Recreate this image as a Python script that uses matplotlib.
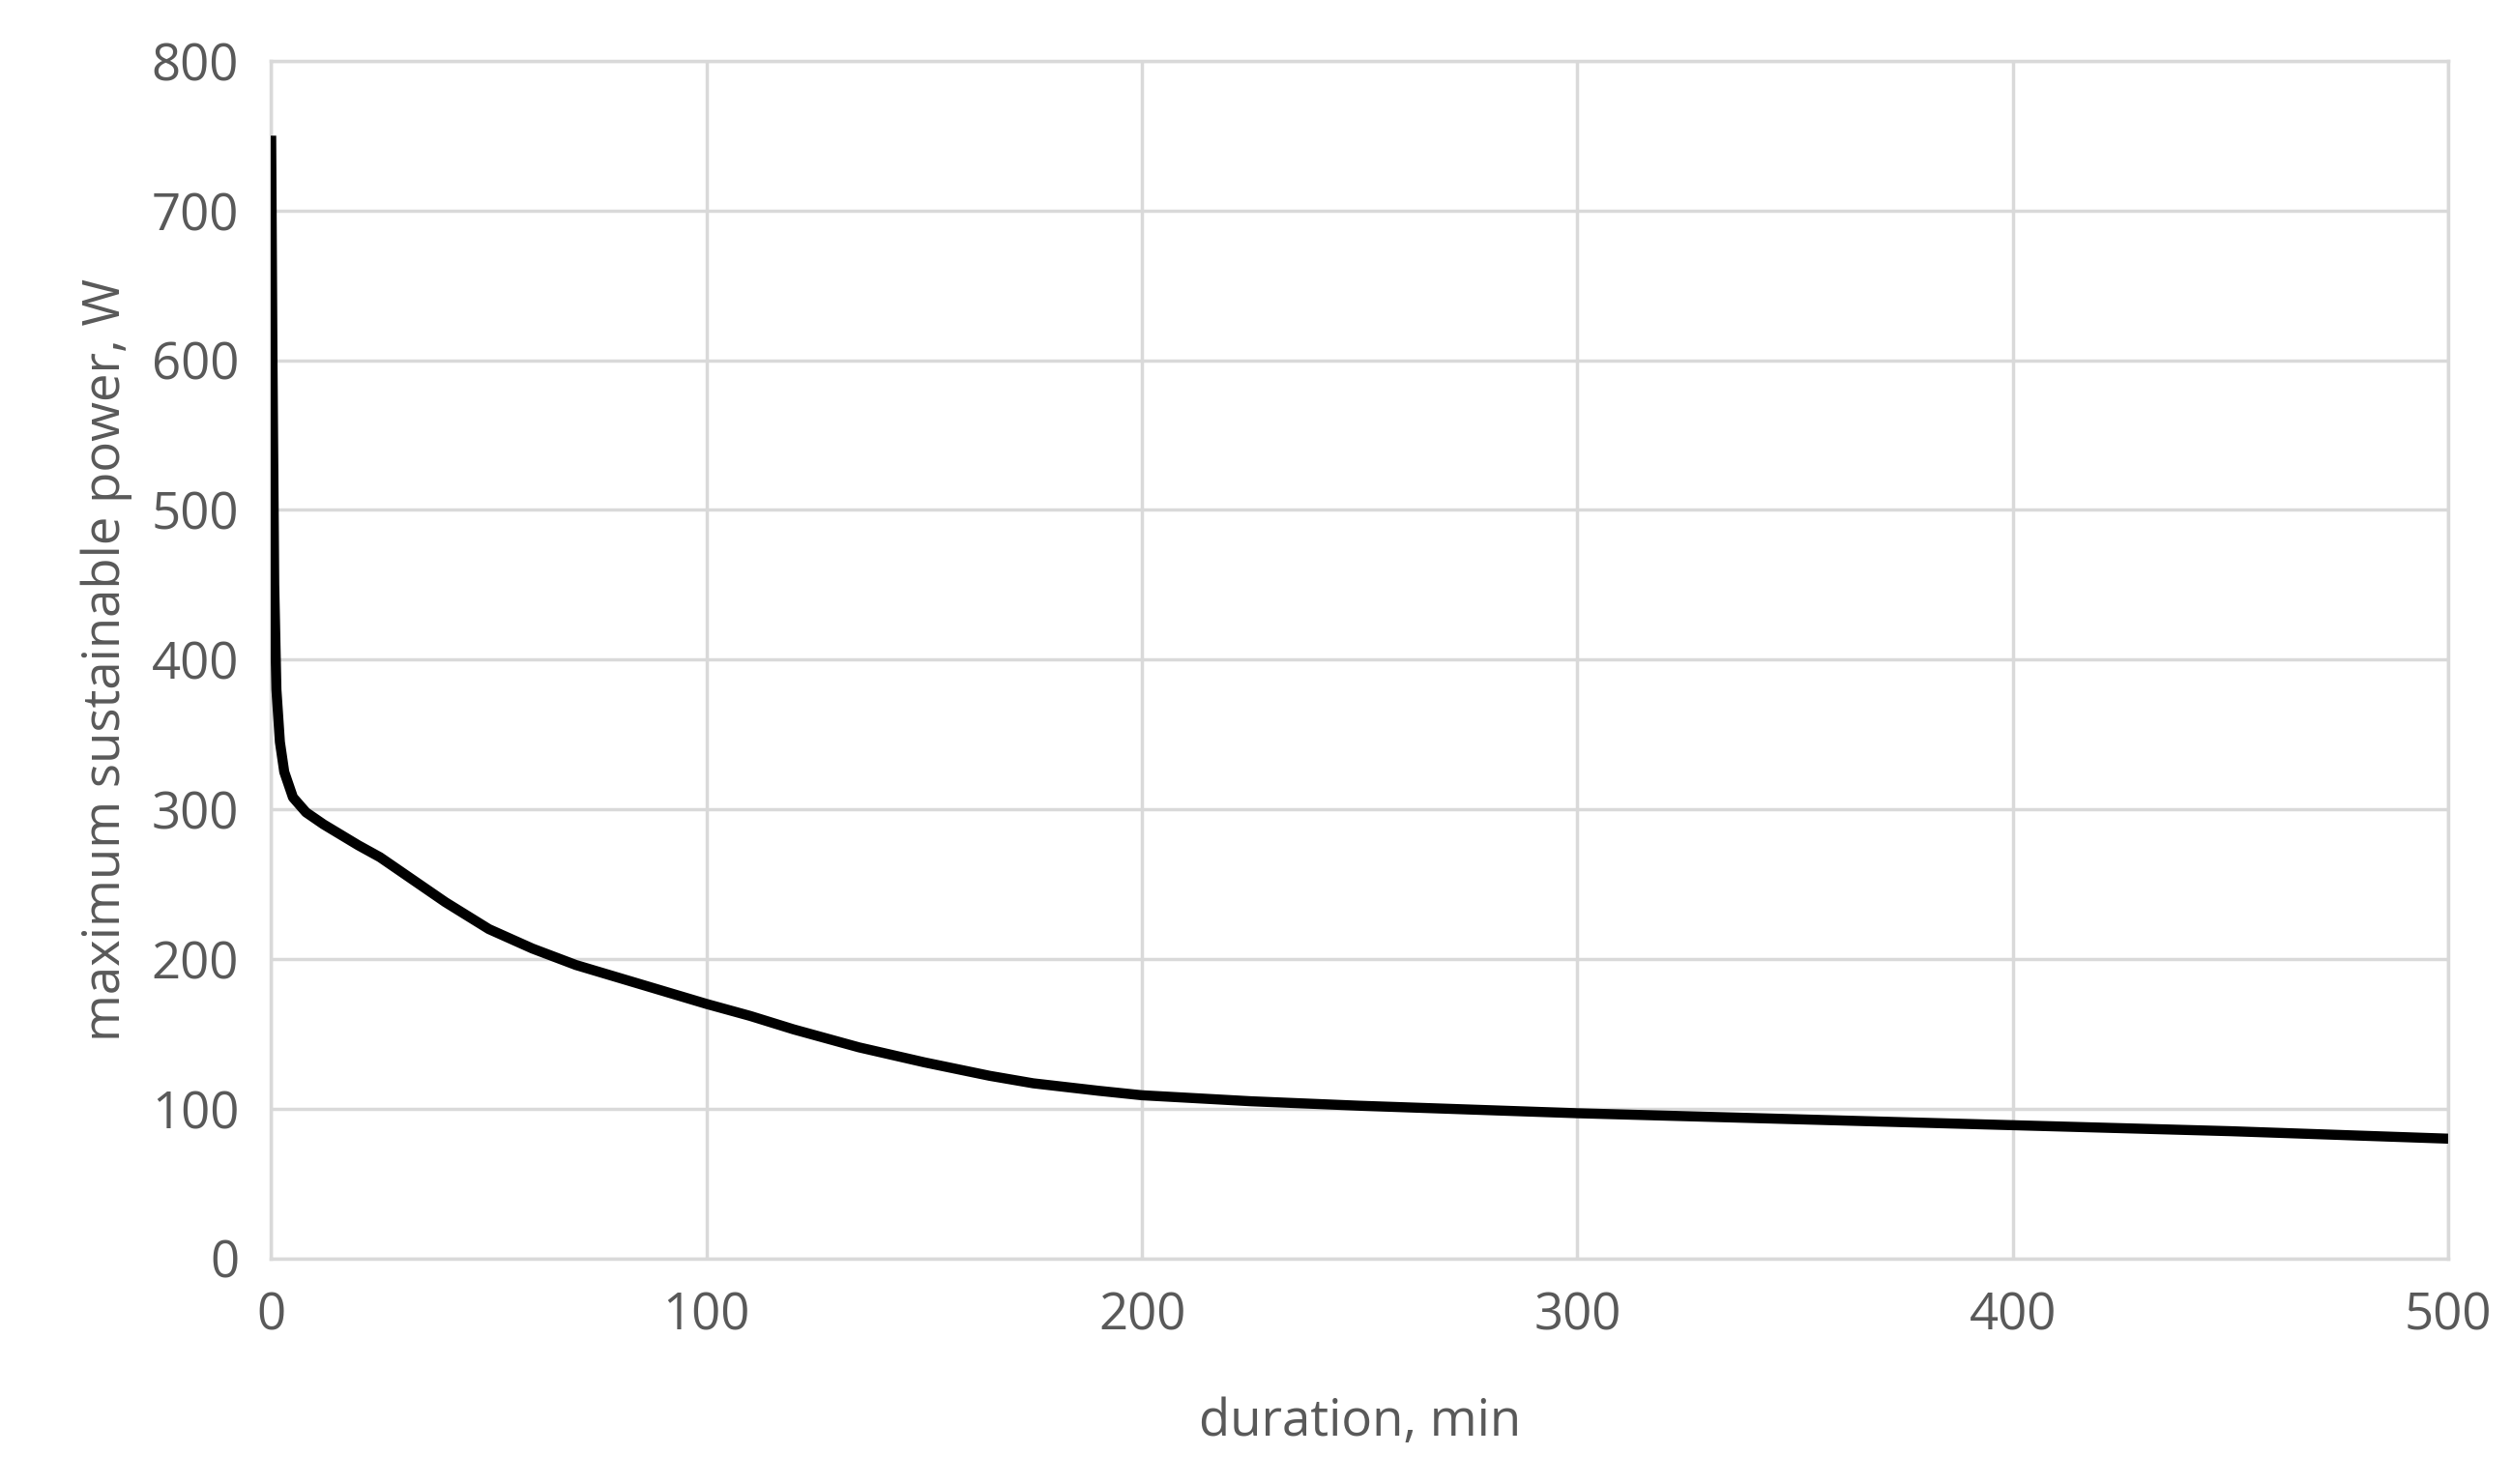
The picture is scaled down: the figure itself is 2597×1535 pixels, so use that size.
import matplotlib.pyplot as plt

# curve
duration = [0, 0.3, 0.7, 1.2, 2, 3, 5, 8, 12, 16, 20, 25, 30, 35, 40, 50, 60, 70, 85, 100,
            110, 120, 135, 150, 165, 175, 190, 200, 225, 250, 300, 350, 400, 450, 500]
power = [750, 600, 450, 380, 345, 325, 308, 298, 290, 283, 276, 268, 258, 248, 238, 220, 207,
         196, 183, 170, 162, 153, 141, 131, 122, 117, 112, 109, 105, 102, 97, 93, 89, 85, 80]

x_ticks = [0, 100, 200, 300, 400, 500]
y_ticks = [0, 100, 200, 300, 400, 500, 600, 700, 800]

grey = "#595959"
plt.rcParams['font.family'] = ['Open Sans', 'DejaVu Sans']

fig = plt.figure(figsize=(25.97, 15.35), dpi=100)
ax = fig.add_axes([0.108, 0.152, 0.867, 0.807])

ax.plot(duration, power, color="black", linewidth=7.5, solid_capstyle="butt",
        solid_joinstyle="round", zorder=3)

ax.set_xlim(0, 500)
ax.set_ylim(0, 800)
ax.set_xticks(x_ticks)
ax.set_yticks(y_ticks)
ax.grid(True, color="#d9d9d9", linewidth=2.5)
for s in ax.spines.values():
    s.set_color("#d9d9d9")
    s.set_linewidth(2.5)
ax.tick_params(length=0, labelsize=38, labelcolor=grey, pad=24)
ax.set_xlabel("duration, min", fontsize=38, color=grey, labelpad=40)
ax.set_ylabel("maximum sustainable power, W", fontsize=38, color=grey, labelpad=14)

fig.savefig("out.png", dpi=100)
